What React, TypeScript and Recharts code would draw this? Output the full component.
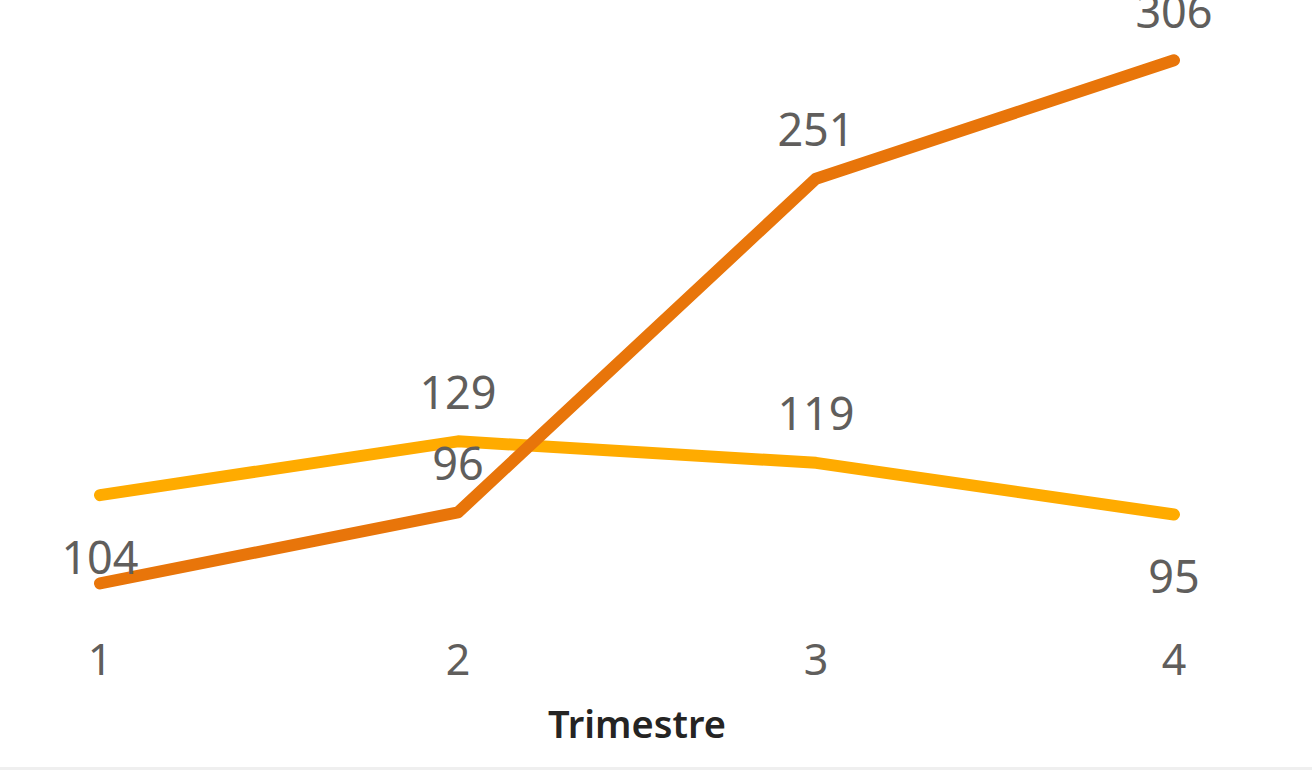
import React from "react";
import { LineChart, Line, XAxis, YAxis } from "recharts";

const quarters = ["1", "2", "3", "4"];
const yellowValues = [104, 129, 119, 95];
const orangeValues = [63, 96, 251, 306];
// where Power BI put each data label ("" = hidden)
const yellowLabelSide = ["below", "above", "above", "below"];
const orangeLabelSide = ["", "above", "above", "above"];

const data = quarters.map((q, i) => ({
  quarter: q,
  yellow: yellowValues[i],
  orange: orangeValues[i],
}));

const labelColor = "#605E5C";
const font = "'Noto Sans', 'Open Sans', sans-serif";

const makeLabel = (sides: string[]) => (props: any) => {
  const { x, y, value, index } = props;
  const side = sides[index];
  if (!side) return <g key={`l-${index}`} />;
  const dy = side === "above" ? -50 : 61;
  return (
    <text
      key={`l-${index}`}
      x={x}
      y={y + dy}
      textAnchor="middle"
      dominantBaseline="central"
      fill={labelColor}
      fontSize={45}
      fontFamily={font}
    >
      {value}
    </text>
  );
};

const QuarterTick = (props: any) => {
  const { x, y, payload } = props;
  return (
    <text
      x={x}
      y={y + 30}
      textAnchor="middle"
      dominantBaseline="central"
      fill={labelColor}
      fontSize={43}
      fontFamily={font}
    >
      {payload.value}
    </text>
  );
};

const App = () => {
  return (
    <div style={{ position: "absolute", top: 0, left: 0, width: 1312, height: 770, background: "#fff" }}>
      <LineChart
        width={1312}
        height={770}
        data={data}
        margin={{ top: 0, right: 138, bottom: 0, left: 100 }}
      >
        <XAxis
          dataKey="quarter"
          height={150}
          axisLine={false}
          tickLine={false}
          tick={<QuarterTick />}
          label={{
            value: "Trimestre",
            position: "insideBottom",
            offset: 32,
            fill: "#252423",
            fontSize: 38,
            fontWeight: 600,
            fontFamily: font,
          }}
        />
        <YAxis hide domain={[46, 334]} />
        <Line
          dataKey="yellow"
          stroke="#FFAB00"
          strokeWidth={12}
          strokeLinecap="round"
          strokeLinejoin="round"
          dot={false}
          activeDot={false}
          isAnimationActive={false}
          label={makeLabel(yellowLabelSide)}
        />
        <Line
          dataKey="orange"
          stroke="#E8750A"
          strokeWidth={12}
          strokeLinecap="round"
          strokeLinejoin="round"
          dot={false}
          activeDot={false}
          isAnimationActive={false}
          label={makeLabel(orangeLabelSide)}
        />
      </LineChart>
      <div style={{ position: "absolute", left: 0, top: 767, width: 1312, height: 3, background: "#EFEFEF" }} />
    </div>
  );
};

export default App;
